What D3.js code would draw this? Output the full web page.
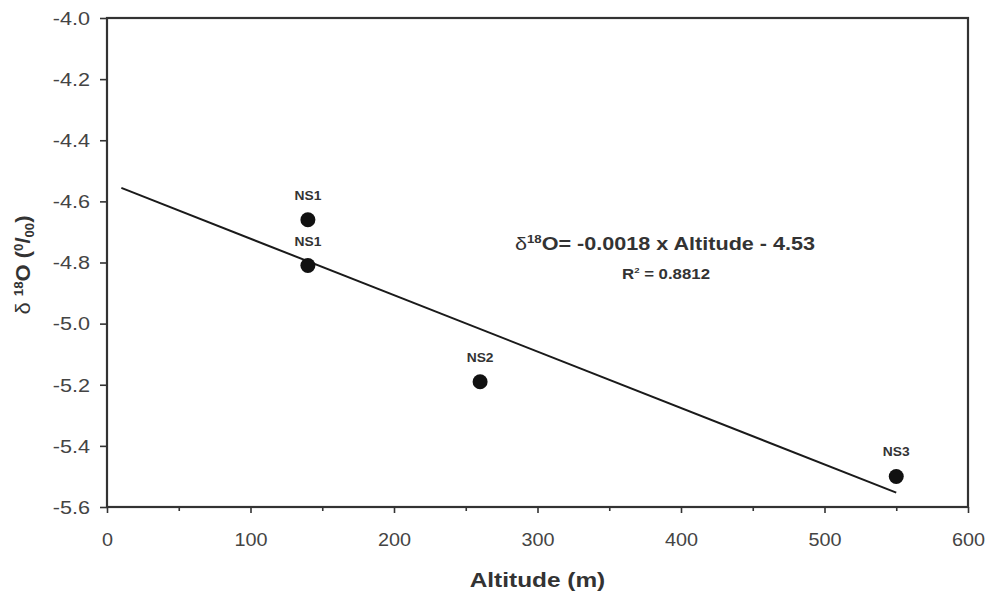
<!DOCTYPE html>
<html><head><meta charset="utf-8">
<script src="https://cdn.jsdelivr.net/npm/d3@7"></script>
<style>body{margin:0;background:#fff}svg{display:block}text{font-family:"Liberation Sans",Arial,sans-serif}</style>
</head><body><svg id="c" width="999" height="595"></svg>
<script>
const altitude = [140, 140, 260, 550];
const d18O = [-4.66, -4.81, -5.19, -5.50];
const siteLabels = ["NS1", "NS1", "NS2", "NS3"];
const fitX = [10, 550];
const fitY = [-4.556, -5.553];
const xTicks = [0, 100, 200, 300, 400, 500, 600];
const xMinorTicks = [50, 150, 250, 350, 450, 550];
const yTicks = [-4.0, -4.2, -4.4, -4.6, -4.8, -5.0, -5.2, -5.4, -5.6];

const svg = d3.select("#c");
const L = 107, R = 968, T = 18, B = 507;
const x = d3.scaleLinear().domain([0, 600]).range([L, R]);
const y = d3.scaleLinear().domain([-5.6, -4.0]).range([B, T]);
const axisCol = "#333", textCol = "#444";

// horizontally widen a text element around its anchor
function widen(node, k) {
  const w = node.getComputedTextLength();
  node.setAttribute("textLength", w * k);
  node.setAttribute("lengthAdjust", "spacingAndGlyphs");
}

// frame
svg.append("rect").attr("x", L).attr("y", T).attr("width", R - L).attr("height", B - T)
  .attr("fill", "none").attr("stroke", axisCol).attr("stroke-width", 2.2);

// x axis
const gx = svg.append("g").attr("transform", `translate(0,${B})`)
  .call(d3.axisBottom(x).tickValues(xTicks).tickSize(6).tickPadding(20).tickFormat(d3.format("d")));
svg.append("g").attr("transform", `translate(0,${B})`)
  .call(d3.axisBottom(x).tickValues(xMinorTicks).tickSize(4).tickFormat(""));
// y axis
const gy = svg.append("g").attr("transform", `translate(${L},0)`)
  .call(d3.axisLeft(y).tickValues(yTicks).tickSize(7).tickPadding(10).tickFormat(d3.format(".1f")));
svg.selectAll(".domain").remove();
svg.selectAll(".tick line").attr("stroke", axisCol).attr("stroke-width", 1.6);
svg.selectAll(".tick text").attr("fill", textCol).style("font-size", "18px")
  .style("font-family", '"Liberation Sans",Arial,sans-serif');
gy.selectAll(".tick text").attr("dy", "0.35em").text(d => d3.format(".1f")(d).replace("−", "-"))
  .each(function () { widen(this, 1.2); });
gx.selectAll(".tick text").each(function () { widen(this, 1.1); });

// fit line
svg.append("line").attr("x1", x(fitX[0])).attr("y1", y(fitY[0]))
  .attr("x2", x(fitX[1])).attr("y2", y(fitY[1]))
  .attr("stroke", "#1a1a1a").attr("stroke-width", 2);

// points
const pts = altitude.map((a, i) => ({ a, v: d18O[i], s: siteLabels[i] }));
svg.selectAll("circle.p").data(pts).enter().append("circle")
  .attr("cx", d => x(d.a)).attr("cy", d => y(d.v)).attr("r", 7.5).attr("fill", "#111");
svg.selectAll("text.lab").data(pts).enter().append("text")
  .attr("x", d => x(d.a)).attr("y", d => y(d.v) - 20).attr("text-anchor", "middle")
  .attr("fill", "#333").style("font-size", "12px").style("font-weight", "bold").text(d => d.s)
  .each(function () { widen(this, 1.15); });

// equation
function stretchGroup(cx, k) {
  return svg.append("g").attr("transform", `translate(${cx},0) scale(${k},1) translate(${-cx},0)`);
}
const eq = stretchGroup(665, 1.2).append("text").attr("x", 665).attr("y", 250).attr("text-anchor", "middle")
  .attr("fill", "#333").style("font-size", "18px").style("font-weight", "bold");
eq.append("tspan").text("δ").style("font-weight", "normal");
eq.append("tspan").text("18").attr("dy", -7).style("font-size", "11px");
eq.append("tspan").text("O= -0.0018 x Altitude - 4.53").attr("dy", 7);
const r2 = stretchGroup(666, 1.2).append("text").attr("x", 666).attr("y", 279).attr("text-anchor", "middle")
  .attr("fill", "#333").style("font-size", "14px").style("font-weight", "bold");
r2.append("tspan").text("R");
r2.append("tspan").text("2").attr("dy", -6).style("font-size", "8px");
r2.append("tspan").text(" = 0.8812").attr("dy", 6);

// axis titles
svg.append("text").attr("x", (L + R) / 2).attr("y", 587).attr("text-anchor", "middle")
  .attr("fill", "#333").style("font-size", "20px").style("font-weight", "bold").text("Altitude (m)")
  .each(function () { widen(this, 1.22); });
const yt = svg.append("text").attr("transform", `translate(30,265) rotate(-90) scale(1.1,1)`)
  .attr("text-anchor", "middle").attr("fill", "#333").style("font-size", "20px").style("font-weight", "bold");
yt.append("tspan").text("δ ").style("font-weight", "normal");
yt.append("tspan").text("18").attr("dy", -7).style("font-size", "12px");
yt.append("tspan").text("O (").attr("dy", 7);
yt.append("tspan").text("0").attr("dy", -7).style("font-size", "12px");
yt.append("tspan").text("/").attr("dy", 7);
yt.append("tspan").text("00").attr("dy", 4).style("font-size", "12px");
yt.append("tspan").text(")").attr("dy", -4);
</script></body></html>
